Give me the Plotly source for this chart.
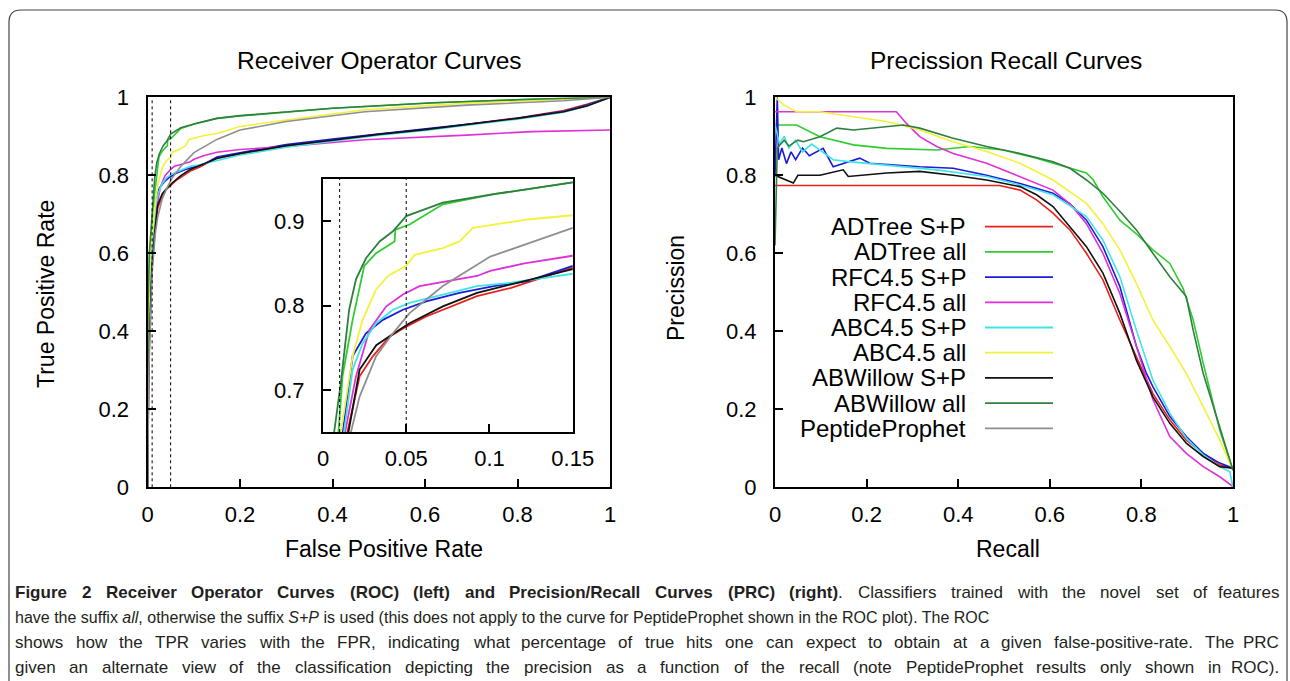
import plotly.graph_objects as go

# ---------------- DATA ----------------
classifiers = ["ADTree S+P", "ADTree all", "RFC4.5 S+P", "RFC4.5 all", "ABC4.5 S+P",
               "ABC4.5 all", "ABWillow S+P", "ABWillow all", "PeptideProphet"]
colors = ["#e8211c", "#2fcc2f", "#1c1cd6", "#e030d8", "#3fe3e8",
          "#f2f23a", "#111111", "#2f7f3f", "#8f8f8f"]

# ROC curves (FPR, TPR)
roc_adtree_sp_x = [0, 0.003, 0.008, 0.0147, 0.022, 0.030, 0.040, 0.050, 0.062, 0.072, 0.0925, 0.113, 0.15, 0.2, 0.3, 0.4, 0.5, 0.6, 0.7, 0.8, 0.9, 0.95, 1]
roc_adtree_sp_y = [0, 0.35, 0.55, 0.65, 0.716, 0.740, 0.763, 0.775, 0.787, 0.795, 0.811, 0.821, 0.845, 0.855, 0.875, 0.89, 0.905, 0.917, 0.932, 0.947, 0.966, 0.982, 1]
roc_adtree_all_x = [0, 0.002, 0.005, 0.0093, 0.0117, 0.0178, 0.0248, 0.0319, 0.043, 0.0435, 0.052, 0.072, 0.1026, 0.15, 0.2, 0.4, 0.62, 0.83, 1]
roc_adtree_all_y = [0, 0.45, 0.6, 0.65, 0.716, 0.783, 0.847, 0.862, 0.876, 0.890, 0.896, 0.920, 0.932, 0.946, 0.952, 0.972, 0.986, 0.995, 1]
roc_rfc_sp_x = [0, 0.002, 0.006, 0.0117, 0.0178, 0.0258, 0.036, 0.048, 0.062, 0.082, 0.1026, 0.123, 0.15, 0.2, 0.3, 0.4, 0.5, 0.6, 0.7, 0.8, 0.9, 0.95, 1]
roc_rfc_sp_y = [0, 0.35, 0.56, 0.65, 0.740, 0.767, 0.783, 0.795, 0.805, 0.815, 0.823, 0.829, 0.847, 0.858, 0.879, 0.893, 0.906, 0.918, 0.932, 0.946, 0.964, 0.98, 1]
roc_rfc_all_x = [0, 0.002, 0.007, 0.0133, 0.0198, 0.0279, 0.038, 0.048, 0.058, 0.076, 0.0925, 0.1005, 0.121, 0.15, 0.2, 0.3, 0.47, 0.69, 0.83, 1]
roc_rfc_all_y = [0, 0.37, 0.57, 0.65, 0.716, 0.771, 0.799, 0.813, 0.823, 0.829, 0.835, 0.841, 0.850, 0.859, 0.866, 0.874, 0.891, 0.903, 0.912, 0.916]
roc_abc_sp_x = [0, 0.002, 0.007, 0.0127, 0.0178, 0.0238, 0.0319, 0.042, 0.052, 0.072, 0.0925, 0.113, 0.15, 0.2, 0.3, 0.4, 0.5, 0.6, 0.7, 0.8, 0.9, 0.95, 1]
roc_abc_sp_y = [0, 0.36, 0.57, 0.65, 0.724, 0.755, 0.779, 0.795, 0.803, 0.813, 0.823, 0.827, 0.838, 0.852, 0.872, 0.888, 0.903, 0.915, 0.929, 0.944, 0.962, 0.978, 1]
roc_abc_all_x = [0, 0.002, 0.006, 0.0107, 0.0178, 0.0238, 0.0319, 0.039, 0.050, 0.055, 0.072, 0.082, 0.090, 0.123, 0.15, 0.2, 0.3, 0.47, 0.69, 0.9, 1]
roc_abc_all_y = [0, 0.4, 0.6, 0.65, 0.74, 0.783, 0.819, 0.835, 0.847, 0.860, 0.868, 0.876, 0.892, 0.902, 0.907, 0.925, 0.942, 0.968, 0.985, 0.995, 1]
roc_abw_sp_x = [0, 0.003, 0.009, 0.0153, 0.022, 0.032, 0.044, 0.052, 0.072, 0.0925, 0.113, 0.15, 0.2, 0.3, 0.4, 0.5, 0.6, 0.7, 0.8, 0.9, 0.95, 1]
roc_abw_sp_y = [0, 0.33, 0.55, 0.65, 0.724, 0.753, 0.769, 0.779, 0.799, 0.815, 0.825, 0.843, 0.856, 0.876, 0.89, 0.905, 0.917, 0.931, 0.946, 0.963, 0.978, 1]
roc_abw_all_x = [0, 0.001, 0.004, 0.0067, 0.0107, 0.0157, 0.0198, 0.0258, 0.034, 0.042, 0.050, 0.072, 0.1026, 0.15, 0.2, 0.4, 0.62, 0.83, 1]
roc_abw_all_y = [0, 0.45, 0.6, 0.65, 0.708, 0.795, 0.831, 0.856, 0.876, 0.888, 0.906, 0.922, 0.932, 0.946, 0.953, 0.972, 0.986, 0.995, 1]
roc_pp_x = [0, 0.003, 0.01, 0.0168, 0.022, 0.0319, 0.042, 0.052, 0.072, 0.1005, 0.15, 0.2, 0.3, 0.47, 0.69, 0.9, 1]
roc_pp_y = [0, 0.3, 0.55, 0.65, 0.692, 0.74, 0.767, 0.791, 0.823, 0.858, 0.892, 0.916, 0.938, 0.963, 0.980, 0.991, 1]

# PRC curves (Recall, Precision)
prc_adtree_sp_x = [0, 0.49, 0.535, 0.571, 0.607, 0.644, 0.68, 0.716, 0.753, 0.789, 0.825, 0.862, 0.898, 0.935, 0.971, 1]
prc_adtree_sp_y = [0.774, 0.774, 0.762, 0.737, 0.703, 0.660, 0.600, 0.532, 0.429, 0.335, 0.241, 0.173, 0.121, 0.087, 0.057, 0.049]
prc_adtree_all_x = [0, 0.047, 0.098, 0.171, 0.244, 0.353, 0.425, 0.498, 0.571, 0.644, 0.68, 0.695, 0.716, 0.753, 0.789, 0.825, 0.862, 0.891, 0.913, 0.935, 0.971, 1]
prc_adtree_all_y = [0.929, 0.929, 0.899, 0.878, 0.869, 0.865, 0.874, 0.865, 0.844, 0.818, 0.806, 0.788, 0.745, 0.685, 0.65, 0.609, 0.574, 0.51, 0.429, 0.318, 0.147, 0.044]
prc_rfc_sp_x = [0, 0.005, 0.008, 0.015, 0.025, 0.035, 0.045, 0.06, 0.075, 0.09, 0.105, 0.127, 0.15, 0.185, 0.207, 0.316, 0.389, 0.462, 0.535, 0.607, 0.644, 0.68, 0.716, 0.753, 0.789, 0.811, 0.825, 0.862, 0.898, 0.935, 0.971, 1]
prc_rfc_sp_y = [0.80, 1.0, 0.84, 0.87, 0.83, 0.86, 0.84, 0.87, 0.85, 0.86, 0.869, 0.822, 0.83, 0.844, 0.831, 0.822, 0.818, 0.80, 0.779, 0.754, 0.727, 0.685, 0.617, 0.515, 0.362, 0.292, 0.258, 0.182, 0.13, 0.087, 0.062, 0.049]
prc_rfc_all_x = [0, 0.265, 0.287, 0.316, 0.353, 0.389, 0.462, 0.535, 0.607, 0.644, 0.68, 0.716, 0.753, 0.789, 0.825, 0.862, 0.898, 0.935, 0.971, 1]
prc_rfc_all_y = [0.963, 0.963, 0.933, 0.899, 0.874, 0.856, 0.831, 0.797, 0.762, 0.727, 0.676, 0.60, 0.497, 0.362, 0.225, 0.13, 0.087, 0.053, 0.027, 0.002]
prc_abc_sp_x = [0, 0.01, 0.02, 0.03, 0.045, 0.06, 0.08, 0.098, 0.127, 0.16, 0.244, 0.353, 0.462, 0.535, 0.607, 0.68, 0.716, 0.753, 0.789, 0.825, 0.862, 0.898, 0.935, 0.971, 0.993, 1]
prc_abc_sp_y = [0.93, 0.88, 0.90, 0.87, 0.89, 0.86, 0.88, 0.865, 0.84, 0.835, 0.826, 0.814, 0.797, 0.775, 0.75, 0.694, 0.634, 0.54, 0.403, 0.275, 0.19, 0.126, 0.083, 0.053, 0.04, 0.0]
prc_abc_all_x = [0, 0.02, 0.047, 0.098, 0.171, 0.244, 0.316, 0.389, 0.462, 0.535, 0.607, 0.68, 0.716, 0.753, 0.789, 0.825, 0.862, 0.898, 0.935, 0.971, 1]
prc_abc_all_y = [1.0, 0.98, 0.963, 0.963, 0.95, 0.938, 0.916, 0.886, 0.861, 0.831, 0.788, 0.728, 0.676, 0.609, 0.523, 0.429, 0.361, 0.292, 0.207, 0.121, 0.044]
prc_abw_sp_x = [0, 0.02, 0.04, 0.05, 0.098, 0.149, 0.16, 0.244, 0.316, 0.389, 0.462, 0.535, 0.571, 0.607, 0.644, 0.68, 0.716, 0.753, 0.789, 0.825, 0.862, 0.898, 0.935, 0.971, 1]
prc_abw_sp_y = [0.80, 0.79, 0.78, 0.80, 0.80, 0.814, 0.797, 0.806, 0.81, 0.80, 0.788, 0.771, 0.75, 0.72, 0.668, 0.617, 0.549, 0.446, 0.326, 0.232, 0.164, 0.113, 0.079, 0.053, 0.049]
prc_abw_all_x = [0, 0.005, 0.02, 0.03, 0.05, 0.062, 0.098, 0.135, 0.171, 0.244, 0.28, 0.316, 0.389, 0.462, 0.535, 0.607, 0.644, 0.68, 0.716, 0.753, 0.789, 0.825, 0.862, 0.898, 0.913, 0.935, 0.971, 1]
prc_abw_all_y = [0.62, 0.87, 0.89, 0.875, 0.89, 0.886, 0.899, 0.921, 0.916, 0.925, 0.929, 0.921, 0.895, 0.874, 0.856, 0.835, 0.818, 0.788, 0.754, 0.708, 0.66, 0.60, 0.54, 0.489, 0.403, 0.292, 0.156, 0.044]

roc_x = [roc_adtree_sp_x, roc_adtree_all_x, roc_rfc_sp_x, roc_rfc_all_x, roc_abc_sp_x,
         roc_abc_all_x, roc_abw_sp_x, roc_abw_all_x, roc_pp_x]
roc_y = [roc_adtree_sp_y, roc_adtree_all_y, roc_rfc_sp_y, roc_rfc_all_y, roc_abc_sp_y,
         roc_abc_all_y, roc_abw_sp_y, roc_abw_all_y, roc_pp_y]
prc_x = [prc_adtree_sp_x, prc_adtree_all_x, prc_rfc_sp_x, prc_rfc_all_x, prc_abc_sp_x,
         prc_abc_all_x, prc_abw_sp_x, prc_abw_all_x]
prc_y = [prc_adtree_sp_y, prc_adtree_all_y, prc_rfc_sp_y, prc_rfc_all_y, prc_abc_sp_y,
         prc_abc_all_y, prc_abw_sp_y, prc_abw_all_y]

fpr_marks = [0.01, 0.05]
main_ticks = [0, 0.2, 0.4, 0.6, 0.8, 1]
main_ticklabels = ["0", "0.2", "0.4", "0.6", "0.8", "1"]
inset_xticks = [0, 0.05, 0.1, 0.15]
inset_xticklabels = ["0", "0.05", "0.1", "0.15"]
inset_yticks = [0.7, 0.8, 0.9]
inset_yticklabels = ["0.7", "0.8", "0.9"]

# caption: line 1 words as (text, style) where style 1 = bold, 2 = bold + regular suffix after "|"
caption_line1 = [("Figure", 1), ("2", 1), ("Receiver", 1), ("Operator", 1), ("Curves", 1),
                 ("(ROC)", 1), ("(left)", 1), ("and", 1), ("Precision/Recall", 1),
                 ("Curves", 1), ("(PRC)", 1), ("(right)|.", 2), ("Classifiers", 0),
                 ("trained", 0), ("with", 0), ("the", 0), ("novel", 0), ("set", 0),
                 ("of", 0), ("features", 0)]
caption_line2 = ("have the suffix <i>all</i>, otherwise the suffix <i>S+P</i> is used (this does not apply "
                 "to the curve for PeptideProphet shown in the ROC plot). The ROC")
caption_line3 = ("shows how the TPR varies with the FPR, indicating what percentage of true hits one can "
                 "expect to obtain at a given false-positive-rate. The PRC")
caption_line4 = ("given an alternate view of the classification depicting the precision as a function of "
                 "the recall (note PeptideProphet results only shown in ROC).")

# ---------------- LAYOUT HELPERS ----------------
W, H = 1290, 681
def px(x):
    return x / W
def py(y):
    return 1 - y / H

FONT = "Liberation Sans, Arial, Helvetica, sans-serif"
CAP_FONT = "Liberation Sans, Arial, sans-serif"

# approximate Arial/Liberation Sans advance widths (1/1000 em) for justification
_reg = {' ': 278, '!': 278, '(': 333, ')': 333, ',': 278, '-': 333, '.': 278, '/': 278, '+': 584, ':': 278}
_reg.update({d: 556 for d in "0123456789"})
_reg.update(dict(zip("ABCDEFGHIJKLMNOPQRSTUVWXYZ",
                     [667, 667, 722, 722, 667, 611, 778, 722, 278, 500, 667, 556, 833, 722, 778, 667, 778, 722, 667, 611, 722, 667, 944, 667, 667, 611])))
_reg.update(dict(zip("abcdefghijklmnopqrstuvwxyz",
                     [556, 556, 500, 556, 556, 278, 556, 556, 222, 222, 500, 222, 833, 556, 556, 556, 556, 333, 500, 278, 556, 500, 722, 500, 500, 500])))
_bold = dict(_reg)
_bold.update(dict(zip("ABCDEFGHIJKLMNOPQRSTUVWXYZ",
                      [722, 722, 722, 722, 667, 611, 778, 722, 278, 556, 722, 611, 833, 722, 778, 667, 778, 722, 667, 611, 722, 667, 944, 667, 667, 611])))
_bold.update(dict(zip("abcdefghijklmnopqrstuvwxyz",
                      [556, 611, 556, 611, 556, 333, 611, 611, 278, 278, 556, 278, 889, 611, 611, 611, 611, 389, 556, 333, 611, 556, 778, 556, 556, 500])))

def text_w(s, bold, size):
    tbl = _bold if bold else _reg
    return sum(tbl.get(c, 556) for c in s) / 1000.0 * size

fig = go.Figure()

for i, name in enumerate(classifiers):
    fig.add_trace(go.Scatter(x=roc_x[i], y=roc_y[i], mode="lines", name=name,
                             line=dict(color=colors[i], width=1.6), xaxis="x", yaxis="y",
                             showlegend=False))
for i, name in enumerate(classifiers):
    fig.add_trace(go.Scatter(x=roc_x[i], y=roc_y[i], mode="lines", name=name,
                             line=dict(color=colors[i], width=1.8), xaxis="x2", yaxis="y2",
                             showlegend=False))
for i in range(len(prc_x)):
    fig.add_trace(go.Scatter(x=prc_x[i], y=prc_y[i], mode="lines", name=classifiers[i],
                             line=dict(color=colors[i], width=1.6), xaxis="x3", yaxis="y3",
                             showlegend=False))

axis_common = dict(showline=True, linecolor="black", linewidth=2, mirror=True,
                   ticks="inside", ticklen=8, tickwidth=1.5, tickcolor="black", automargin=False,
                   showgrid=False, zeroline=False, tickfont=dict(family=FONT, size=22, color="black"))

main_x_dom = [px(147.5), px(610)]
main_y_dom = [py(487.3), py(97.3)]
inset_x_dom = [px(323), px(572.7)]
inset_y_dom = [py(432), py(179)]
prc_x_dom = [px(775), px(1233)]

fig.update_layout(
    template="none",
    width=W, height=H, autosize=False,
    margin=dict(l=0, r=0, t=0, b=0, pad=0, autoexpand=False),
    paper_bgcolor="white", plot_bgcolor="white",
    showlegend=False,
    xaxis=dict(domain=main_x_dom, range=[0, 1], anchor="y", tickvals=main_ticks,
               ticktext=main_ticklabels, ticklabelstandoff=6, **axis_common),
    yaxis=dict(domain=main_y_dom, range=[0, 1], anchor="x", tickvals=main_ticks,
               ticktext=main_ticklabels, ticklabelstandoff=12, **axis_common),
    xaxis2=dict(domain=inset_x_dom, range=[0, 0.15], anchor="y2", tickvals=inset_xticks,
                ticktext=inset_xticklabels, ticklabelstandoff=6, **axis_common),
    yaxis2=dict(domain=inset_y_dom, range=[0.65, 0.95], anchor="x2", tickvals=inset_yticks,
                ticktext=inset_yticklabels, ticklabelstandoff=12, **axis_common),
    xaxis3=dict(domain=prc_x_dom, range=[0, 1], anchor="y3", tickvals=main_ticks,
                ticktext=main_ticklabels, ticklabelstandoff=6, **axis_common),
    yaxis3=dict(domain=main_y_dom, range=[0, 1], anchor="x3", tickvals=main_ticks,
                ticktext=main_ticklabels, ticklabelstandoff=12, **axis_common),
)

shapes = []
for v in fpr_marks:
    shapes.append(dict(type="line", xref="x", yref="y domain", x0=v, x1=v, y0=0, y1=1,
                       line=dict(color="black", width=1, dash="dot"), layer="above"))
    shapes.append(dict(type="line", xref="x2", yref="y2 domain", x0=v, x1=v, y0=0, y1=1,
                       line=dict(color="black", width=1, dash="dot"), layer="above"))

# outer rounded border
r = 12
bx0, by0, bx1, by1 = 9, 10, 1287, 720
path = (f"M {px(bx0)},{py(by1)} L {px(bx0)},{py(by0 + r)} "
        f"Q {px(bx0)},{py(by0)} {px(bx0 + r)},{py(by0)} "
        f"L {px(bx1 - r)},{py(by0)} Q {px(bx1)},{py(by0)} {px(bx1)},{py(by0 + r)} "
        f"L {px(bx1)},{py(by1)}")
shapes.append(dict(type="path", xref="paper", yref="paper", path=path,
                   line=dict(color="#444444", width=1.2)))

annotations = []
# titles
for txt, x in [("Receiver Operator Curves", 379), ("Precission Recall Curves", 1006)]:
    annotations.append(dict(text=txt, x=px(x), y=py(60), xref="paper", yref="paper",
                            showarrow=False, xanchor="center", yanchor="middle",
                            font=dict(family=FONT, size=24.5, color="black")))
# axis titles
for txt, x, y, ang in [("False Positive Rate", 384, 549, 0), ("True Positive Rate", 46, 294, -90),
                       ("Recall", 1008, 549, 0), ("Precission", 676, 288, -90)]:
    annotations.append(dict(text=txt, x=px(x), y=py(y), xref="paper", yref="paper", textangle=ang,
                            showarrow=False, xanchor="center", yanchor="middle",
                            font=dict(family=FONT, size=23, color="black")))

# manual legend (text on the left, line sample on the right)
leg_y0, leg_dy = 226.7, 25.2
for i, name in enumerate(classifiers):
    yy = leg_y0 + i * leg_dy
    annotations.append(dict(text=name, x=px(968), y=py(yy), xref="paper", yref="paper",
                            showarrow=False, xanchor="right", yanchor="middle",
                            font=dict(family=FONT, size=24, color="black")))
    shapes.append(dict(type="line", xref="paper", yref="paper", x0=px(985), x1=px(1053),
                       y0=py(yy), y1=py(yy), line=dict(color=colors[i], width=1.8)))

# caption
CAP_SIZE = 17
CAP_COLOR = "#231f20"
CAP_X0, CAP_X1 = 13, 1281

def add_word(txt_html, x, y, anchor="left", size=CAP_SIZE):
    annotations.append(dict(text=txt_html, x=px(x), y=py(y), xref="paper", yref="paper",
                            showarrow=False, xanchor=anchor, yanchor="middle",
                            font=dict(family=CAP_FONT, size=size, color=CAP_COLOR)))

def justify(words, y):
    total = sum(w for _, w in words)
    gap = (CAP_X1 - CAP_X0 - total) / (len(words) - 1)
    x = CAP_X0
    for k, (html, w) in enumerate(words):
        if k == len(words) - 1:
            add_word(html, CAP_X1, y, anchor="right")
        else:
            add_word(html, x, y)
        x += w + gap

words1 = []
for wtxt, b in caption_line1:
    if b == 2:
        a, c = wtxt.split("|")
        words1.append(("<b>" + a + "</b>" + c, text_w(a, True, CAP_SIZE) + text_w(c, False, CAP_SIZE)))
    elif b == 1:
        words1.append(("<b>" + wtxt + "</b>", text_w(wtxt, True, CAP_SIZE)))
    else:
        words1.append((wtxt, text_w(wtxt, False, CAP_SIZE)))
justify(words1, 592)

add_word(caption_line2, CAP_X0, 617, size=16)

for y, line in [(642, caption_line3), (667, caption_line4)]:
    justify([(wd, text_w(wd, False, CAP_SIZE)) for wd in line.split(" ")], y)

fig.update_layout(shapes=shapes, annotations=annotations)
fig.write_html("out.html", config={"displayModeBar": False},
               post_script="document.body.style.margin='0px';")
